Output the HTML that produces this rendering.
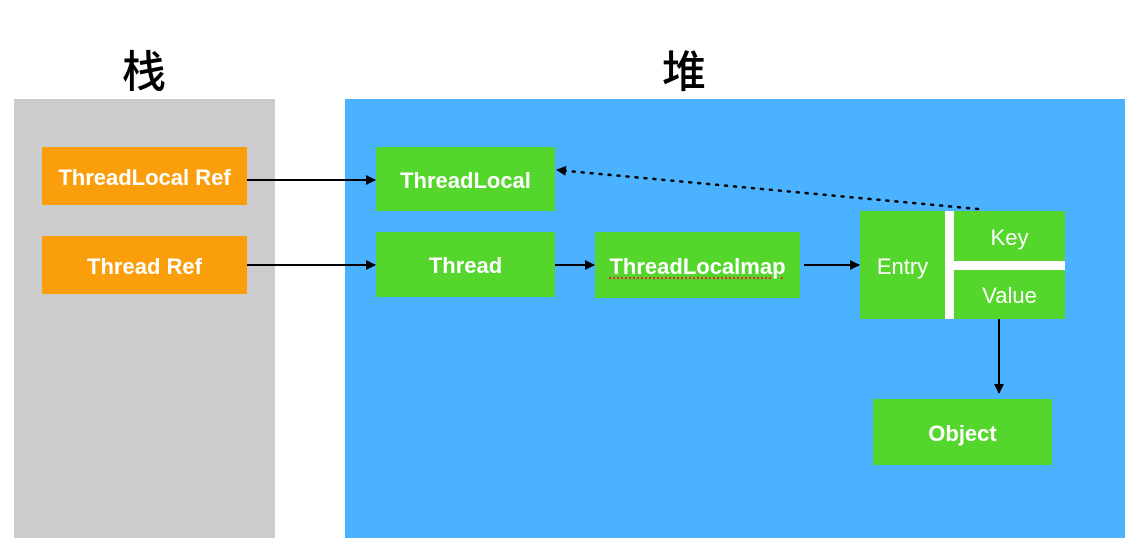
<!DOCTYPE html>
<html><head><meta charset="utf-8"><style>
body{margin:0;width:1137px;height:552px;background:#fff;position:relative;overflow:hidden;font-family:"Liberation Sans",Arial,sans-serif}
.b{position:absolute;color:#fff;font-weight:bold;font-size:22px;display:flex;align-items:center;justify-content:center;padding-top:3px;box-sizing:border-box}
.g{background:#54d62c}.o{background:#fa9e0c}
.t{position:absolute;font-family:"Liberation Sans","Noto Sans CJK SC",sans-serif;font-size:44px;font-weight:500;color:#000}
</style></head><body>
<div class="t" style="left:122px;top:36px">栈</div>
<div class="t" style="left:662px;top:36px">堆</div>
<div style="position:absolute;left:14px;top:99px;width:261px;height:439px;background:#cccccc"></div>
<div style="position:absolute;left:345px;top:99px;width:780px;height:439px;background:#4ab2ff"></div>
<div class="b o" style="left:42px;top:147px;width:205px;height:58px">ThreadLocal Ref</div>
<div class="b o" style="left:42px;top:236px;width:205px;height:58px">Thread Ref</div>
<div class="b g" style="left:376px;top:147px;width:179px;height:64px">ThreadLocal</div>
<div class="b g" style="left:376px;top:232px;width:179px;height:65px">Thread</div>
<div class="b g" style="left:595px;top:232px;width:205px;height:66px"><span style="text-decoration:underline dotted #e03030;text-underline-offset:4px">ThreadLocalmap</span></div>
<div class="b g" style="left:860px;top:211px;width:85px;height:108px;font-weight:normal">Entry</div>
<div class="b g" style="left:954px;top:211px;width:111px;height:50px;font-weight:normal">Key</div>
<div class="b g" style="left:954px;top:270px;width:111px;height:49px;font-weight:normal">Value</div>
<div style="position:absolute;left:945px;top:211px;width:9px;height:108px;background:#fff"></div>
<div style="position:absolute;left:954px;top:261px;width:111px;height:9px;background:#fff"></div>
<div class="b g" style="left:873px;top:399px;width:179px;height:66px">Object</div>
<svg width="1137" height="552" style="position:absolute;left:0;top:0">
<defs><marker id="a" markerWidth="10" markerHeight="10" refX="9" refY="5" orient="auto" markerUnits="userSpaceOnUse"><path d="M0,0L10,5L0,10z" fill="#000"/></marker></defs>
<g stroke="#000" stroke-width="2" fill="none">
<line x1="247" y1="180" x2="375" y2="180" marker-end="url(#a)"/>
<line x1="247" y1="265" x2="375" y2="265" marker-end="url(#a)"/>
<line x1="555" y1="265" x2="594" y2="265" marker-end="url(#a)"/>
<line x1="804" y1="265" x2="859" y2="265" marker-end="url(#a)"/>
<line x1="999" y1="319" x2="999" y2="393" marker-end="url(#a)"/>
<line x1="978" y1="209" x2="557" y2="170" stroke-dasharray="2 7" stroke-linecap="round" stroke-width="2.5" marker-end="url(#a)"/>
</g></svg>
</body></html>
